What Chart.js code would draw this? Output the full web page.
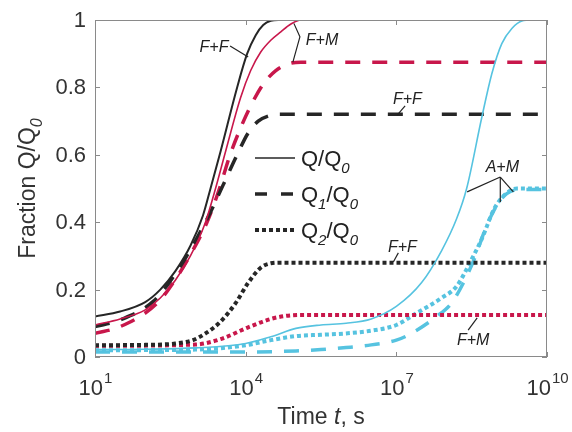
<!DOCTYPE html>
<html>
<head>
<meta charset="utf-8">
<script src="https://cdn.jsdelivr.net/npm/chart.js@4.4.0/dist/chart.umd.min.js"></script>
<style>
  html, body { margin: 0; padding: 0; background: #fff; }
</style>
</head>
<body>
<canvas id="grafico" width="572" height="432"></canvas>
<script>
const tempo_ffQ  = [1, 1.5, 2, 2.3, 2.6, 2.9, 3.15, 3.3, 3.5, 3.83, 4.03, 4.2, 4.35, 4.5, 4.65, 10];
const ffQ        = [0.12, 0.135, 0.163, 0.2, 0.255, 0.33, 0.42, 0.5, 0.61, 0.8, 0.9, 0.955, 0.985, 0.998, 1.0, 1.0];

const tempo_fmQ  = [1, 1.5, 2, 2.3, 2.6, 2.9, 3.2, 3.4, 3.6, 3.9, 4.1, 4.3, 4.5, 4.7, 4.9, 5.1, 10];
const fmQ        = [0.095, 0.113, 0.14, 0.175, 0.228, 0.3, 0.4, 0.5, 0.61, 0.77, 0.85, 0.905, 0.94, 0.965, 0.988, 1.0, 1.0];

const tempo_ffQ1 = [1, 1.5, 2.16, 2.65, 3.0, 3.3, 3.55, 3.83, 4.05, 4.25, 4.45, 4.65, 10];
const ffQ1       = [0.09, 0.11, 0.165, 0.258, 0.345, 0.43, 0.51, 0.6, 0.665, 0.7, 0.715, 0.72, 0.72];

const tempo_fmQ1 = [1, 1.5, 2.24, 2.63, 2.95, 3.23, 3.45, 3.69, 3.9, 4.1, 4.35, 4.6, 4.85, 5.1, 10];
const fmQ1       = [0.07, 0.09, 0.16, 0.237, 0.317, 0.4, 0.487, 0.6, 0.68, 0.745, 0.81, 0.85, 0.87, 0.875, 0.875];

const tempo_ffQ2 = [1, 2, 2.6, 2.95, 3.2, 3.5, 3.8, 4.05, 4.3, 4.5, 4.7, 10];
const ffQ2       = [0.035, 0.036, 0.04, 0.05, 0.07, 0.105, 0.16, 0.22, 0.265, 0.278, 0.28, 0.28];

const tempo_fmQ2 = [1, 3, 3.5, 4.05, 4.5, 4.8, 5.1, 10];
const fmQ2       = [0.033, 0.037, 0.053, 0.088, 0.113, 0.122, 0.125, 0.125];

const tempo_amQ  = [1, 2, 3, 4, 4.5, 5, 5.5, 6, 6.5, 7, 7.5, 7.9, 8.2, 8.4, 8.7, 8.9, 9.1, 9.3, 9.5, 9.7, 10];
const amQ        = [0.022, 0.023, 0.027, 0.04, 0.06, 0.085, 0.095, 0.1, 0.113, 0.15, 0.22, 0.315, 0.41, 0.5, 0.71, 0.84, 0.93, 0.975, 0.997, 1.0, 1.0];

const tempo_amQ1 = [1, 4, 5, 5.5, 6, 6.5, 7, 7.3, 7.8, 8.1, 8.3, 8.55, 8.8, 9.0, 9.2, 9.5, 10];
const amQ1       = [0.015, 0.015, 0.018, 0.022, 0.028, 0.036, 0.05, 0.07, 0.12, 0.16, 0.21, 0.29, 0.39, 0.45, 0.485, 0.497, 0.497];

const tempo_amQ2 = [1, 3, 3.5, 4, 4.5, 5, 5.5, 6, 6.5, 7, 7.4, 7.9, 8.2, 8.5, 8.7, 8.95, 9.15, 9.4, 10];
const amQ2       = [0.02, 0.022, 0.026, 0.035, 0.05, 0.062, 0.066, 0.07, 0.078, 0.095, 0.13, 0.175, 0.21, 0.29, 0.35, 0.44, 0.48, 0.5, 0.5];

// etichette degli assi
const esponentiX = [1, 4, 7, 10];
const tickY = [0, 0.2, 0.4, 0.6, 0.8, 1];

// etichette delle curve (posizione in esponente di t e frazione)
const etichette  = ['F+F', 'F+M', 'F+F', 'A+M', 'F+F', 'F+M'];
const etichetteX = [3.37, 5.52, 7.22, 9.11, 7.12, 8.53];
const etichetteY = [0.917, 0.94, 0.763, 0.561, 0.326, 0.05];
// linee di richiamo: lista di punti [esponente, frazione]
const richiami = [
  [[[3.69, 0.923], [4.05, 0.89]]],
  [[[4.96, 0.99], [5.08, 0.95], [4.94, 0.875]]],
  [[[7.175, 0.745], [7.016, 0.718]]],
  [[[9.07, 0.534], [8.41, 0.49]], [[9.07, 0.534], [9.07, 0.46]], [[9.07, 0.534], [9.33, 0.49]]],
  [[[7.04, 0.309], [6.94, 0.282]]],
  [[[8.43, 0.08], [8.61, 0.116]]]
];

const NERO = '#262626';
const ROSSO = '#c8174b';
const CIANO = '#56c3e0';
const FONT = '"Liberation Sans", Arial, sans-serif';

// trasformo gli array in punti {x, y} con x in secondi
function punti(esp, val) {
  let out = [];
  for (let i = 0; i < esp.length; i++) {
    out.push({ x: Math.pow(10, esp[i]), y: val[i] });
  }
  return out;
}

function serie(esp, val, colore, tipo) {
  let ds = {
    data: punti(esp, val),
    borderColor: colore,
    backgroundColor: colore,
    fill: false,
    pointRadius: 0,
    cubicInterpolationMode: 'monotone',
    borderCapStyle: 'butt'
  };
  if (tipo === 'pieno') {
    ds.borderWidth = colore === NERO ? 2 : 1.6;
  } else if (tipo === 'tratteggio') {
    ds.borderWidth = 3.5;
    ds.borderDash = [15, 12];
  } else {
    ds.borderWidth = 4;
    ds.borderDash = [4, 3];
  }
  return ds;
}

const datasets = [
  serie(tempo_ffQ, ffQ, NERO, 'pieno'),
  serie(tempo_fmQ, fmQ, ROSSO, 'pieno'),
  serie(tempo_amQ, amQ, CIANO, 'pieno'),
  serie(tempo_ffQ1, ffQ1, NERO, 'tratteggio'),
  serie(tempo_fmQ1, fmQ1, ROSSO, 'tratteggio'),
  serie(tempo_ffQ2, ffQ2, NERO, 'punti'),
  serie(tempo_fmQ2, fmQ2, ROSSO, 'punti'),
  serie(tempo_amQ2, amQ2, CIANO, 'punti'),
  serie(tempo_amQ1, amQ1, CIANO, 'tratteggio')
];

// scrive testo con pedice, restituisce la larghezza
function testoPedice(ctx, parti, x, y, dim) {
  let cx = x;
  for (const p of parti) {
    if (p.sub) {
      ctx.font = 'italic ' + Math.round(dim * 0.68) + 'px ' + FONT;
      ctx.fillText(p.t, cx, y + dim * 0.3);
    } else {
      ctx.font = (p.it ? 'italic ' : '') + dim + 'px ' + FONT;
      ctx.fillText(p.t, cx, y);
    }
    cx += ctx.measureText(p.t).width;
  }
  return cx - x;
}

function larghezza(ctx, parti, dim) {
  let w = 0;
  for (const p of parti) {
    ctx.font = (p.sub ? 'italic ' + Math.round(dim * 0.68) : (p.it ? 'italic ' : '') + dim) + 'px ' + FONT;
    w += ctx.measureText(p.t).width;
  }
  return w;
}

const decorazioni = {
  id: 'decorazioni',
  afterDraw(chart) {
    const ctx = chart.ctx;
    const a = chart.chartArea;
    const x = chart.scales.x;
    const y = chart.scales.y;
    ctx.save();

    // cornice
    ctx.strokeStyle = '#8a8a8a';
    ctx.lineWidth = 1;
    ctx.strokeRect(Math.round(a.left) + 0.5, Math.round(a.top) + 0.5, Math.round(a.width) - 1, Math.round(a.height) - 1);

    // tacche verso l'interno
    ctx.beginPath();
    for (const v of tickY) {
      const py = Math.round(y.getPixelForValue(v)) + 0.5;
      ctx.moveTo(a.left, py); ctx.lineTo(a.left + 5, py);
      ctx.moveTo(a.right, py); ctx.lineTo(a.right - 5, py);
    }
    for (const e of esponentiX) {
      const px = Math.round(x.getPixelForValue(Math.pow(10, e))) + 0.5;
      ctx.moveTo(px, a.bottom); ctx.lineTo(px, a.bottom - 5);
      ctx.moveTo(px, a.top); ctx.lineTo(px, a.top + 5);
    }
    ctx.stroke();

    // etichette asse y
    ctx.fillStyle = '#333';
    ctx.font = '22px ' + FONT;
    ctx.textAlign = 'right';
    ctx.textBaseline = 'middle';
    for (const v of tickY) {
      ctx.fillText(String(v), a.left - 9, y.getPixelForValue(v) + 1);
    }

    // etichette asse x: 10 con esponente
    ctx.textAlign = 'left';
    ctx.textBaseline = 'alphabetic';
    for (const e of esponentiX) {
      const px = x.getPixelForValue(Math.pow(10, e));
      ctx.font = '22px ' + FONT;
      const w1 = ctx.measureText('10').width;
      ctx.font = '15px ' + FONT;
      const w2 = ctx.measureText(String(e)).width;
      const x0 = px - (w1 + w2) / 2;
      ctx.font = '22px ' + FONT;
      ctx.fillText('10', x0, 395);
      ctx.font = '15px ' + FONT;
      ctx.fillText(String(e), x0 + w1 + 1, 383);
    }

    // titolo asse x
    const titoloX = [{ t: 'Time ' }, { t: 't', it: true }, { t: ', s' }];
    const wx = larghezza(ctx, titoloX, 23);
    testoPedice(ctx, titoloX, (a.left + a.right) / 2 - wx / 2, 424, 23);

    // titolo asse y ruotato
    const titoloY = [{ t: 'Fraction Q/Q' }, { t: '0', sub: true }];
    const wy = larghezza(ctx, titoloY, 23);
    ctx.save();
    ctx.translate(35, (a.top + a.bottom) / 2);
    ctx.rotate(-Math.PI / 2);
    testoPedice(ctx, titoloY, -wy / 2, 0, 23);
    ctx.restore();

    // legenda interna
    const lx = a.left + 160;
    const righe = [
      { y: a.top + 138, dash: [], w: 1.6, testo: [{ t: 'Q/Q' }, { t: '0', sub: true }] },
      { y: a.top + 174, dash: [12, 14], w: 3.5, testo: [{ t: 'Q' }, { t: '1', sub: true }, { t: '/Q' }, { t: '0', sub: true }] },
      { y: a.top + 210, dash: [4, 3], w: 4, testo: [{ t: 'Q' }, { t: '2', sub: true }, { t: '/Q' }, { t: '0', sub: true }] }
    ];
    for (const r of righe) {
      ctx.strokeStyle = NERO;
      ctx.lineWidth = r.w;
      ctx.setLineDash(r.dash);
      ctx.beginPath();
      ctx.moveTo(lx, r.y);
      ctx.lineTo(lx + 40, r.y);
      ctx.stroke();
      ctx.setLineDash([]);
      ctx.fillStyle = '#222';
      testoPedice(ctx, r.testo, lx + 46, r.y + 8, 22);
    }

    // etichette delle curve con richiami
    ctx.strokeStyle = '#222';
    ctx.lineWidth = 1.2;
    ctx.fillStyle = '#222';
    ctx.font = 'italic 16px ' + FONT;
    ctx.textAlign = 'center';
    ctx.textBaseline = 'middle';
    for (let i = 0; i < etichette.length; i++) {
      ctx.fillText(etichette[i], x.getPixelForValue(Math.pow(10, etichetteX[i])), y.getPixelForValue(etichetteY[i]));
      for (const linea of richiami[i]) {
        ctx.beginPath();
        linea.forEach(function (p, k) {
          const px = x.getPixelForValue(Math.pow(10, p[0]));
          const py = y.getPixelForValue(p[1]);
          if (k === 0) ctx.moveTo(px, py); else ctx.lineTo(px, py);
        });
        ctx.stroke();
      }
    }
    ctx.restore();
  }
};

const config = {
  type: 'line',
  data: { datasets: datasets },
  options: {
    responsive: false,
    animation: false,
    devicePixelRatio: 1,
    layout: { padding: { top: 20, right: 25, left: 0, bottom: 0 } },
    plugins: { legend: { display: false }, tooltip: { enabled: false } },
    scales: {
      x: {
        type: 'logarithmic',
        min: 10,
        max: 1e10,
        grid: { display: false },
        border: { display: false },
        ticks: { display: false },
        afterFit: function (s) { s.height = 75; }
      },
      y: {
        type: 'linear',
        min: 0,
        max: 1,
        grid: { display: false },
        border: { display: false },
        ticks: { display: false },
        afterFit: function (s) { s.width = 95; }
      }
    }
  },
  plugins: [decorazioni]
};

const grafico = new Chart(document.getElementById('grafico'), config);
</script>
</body>
</html>
